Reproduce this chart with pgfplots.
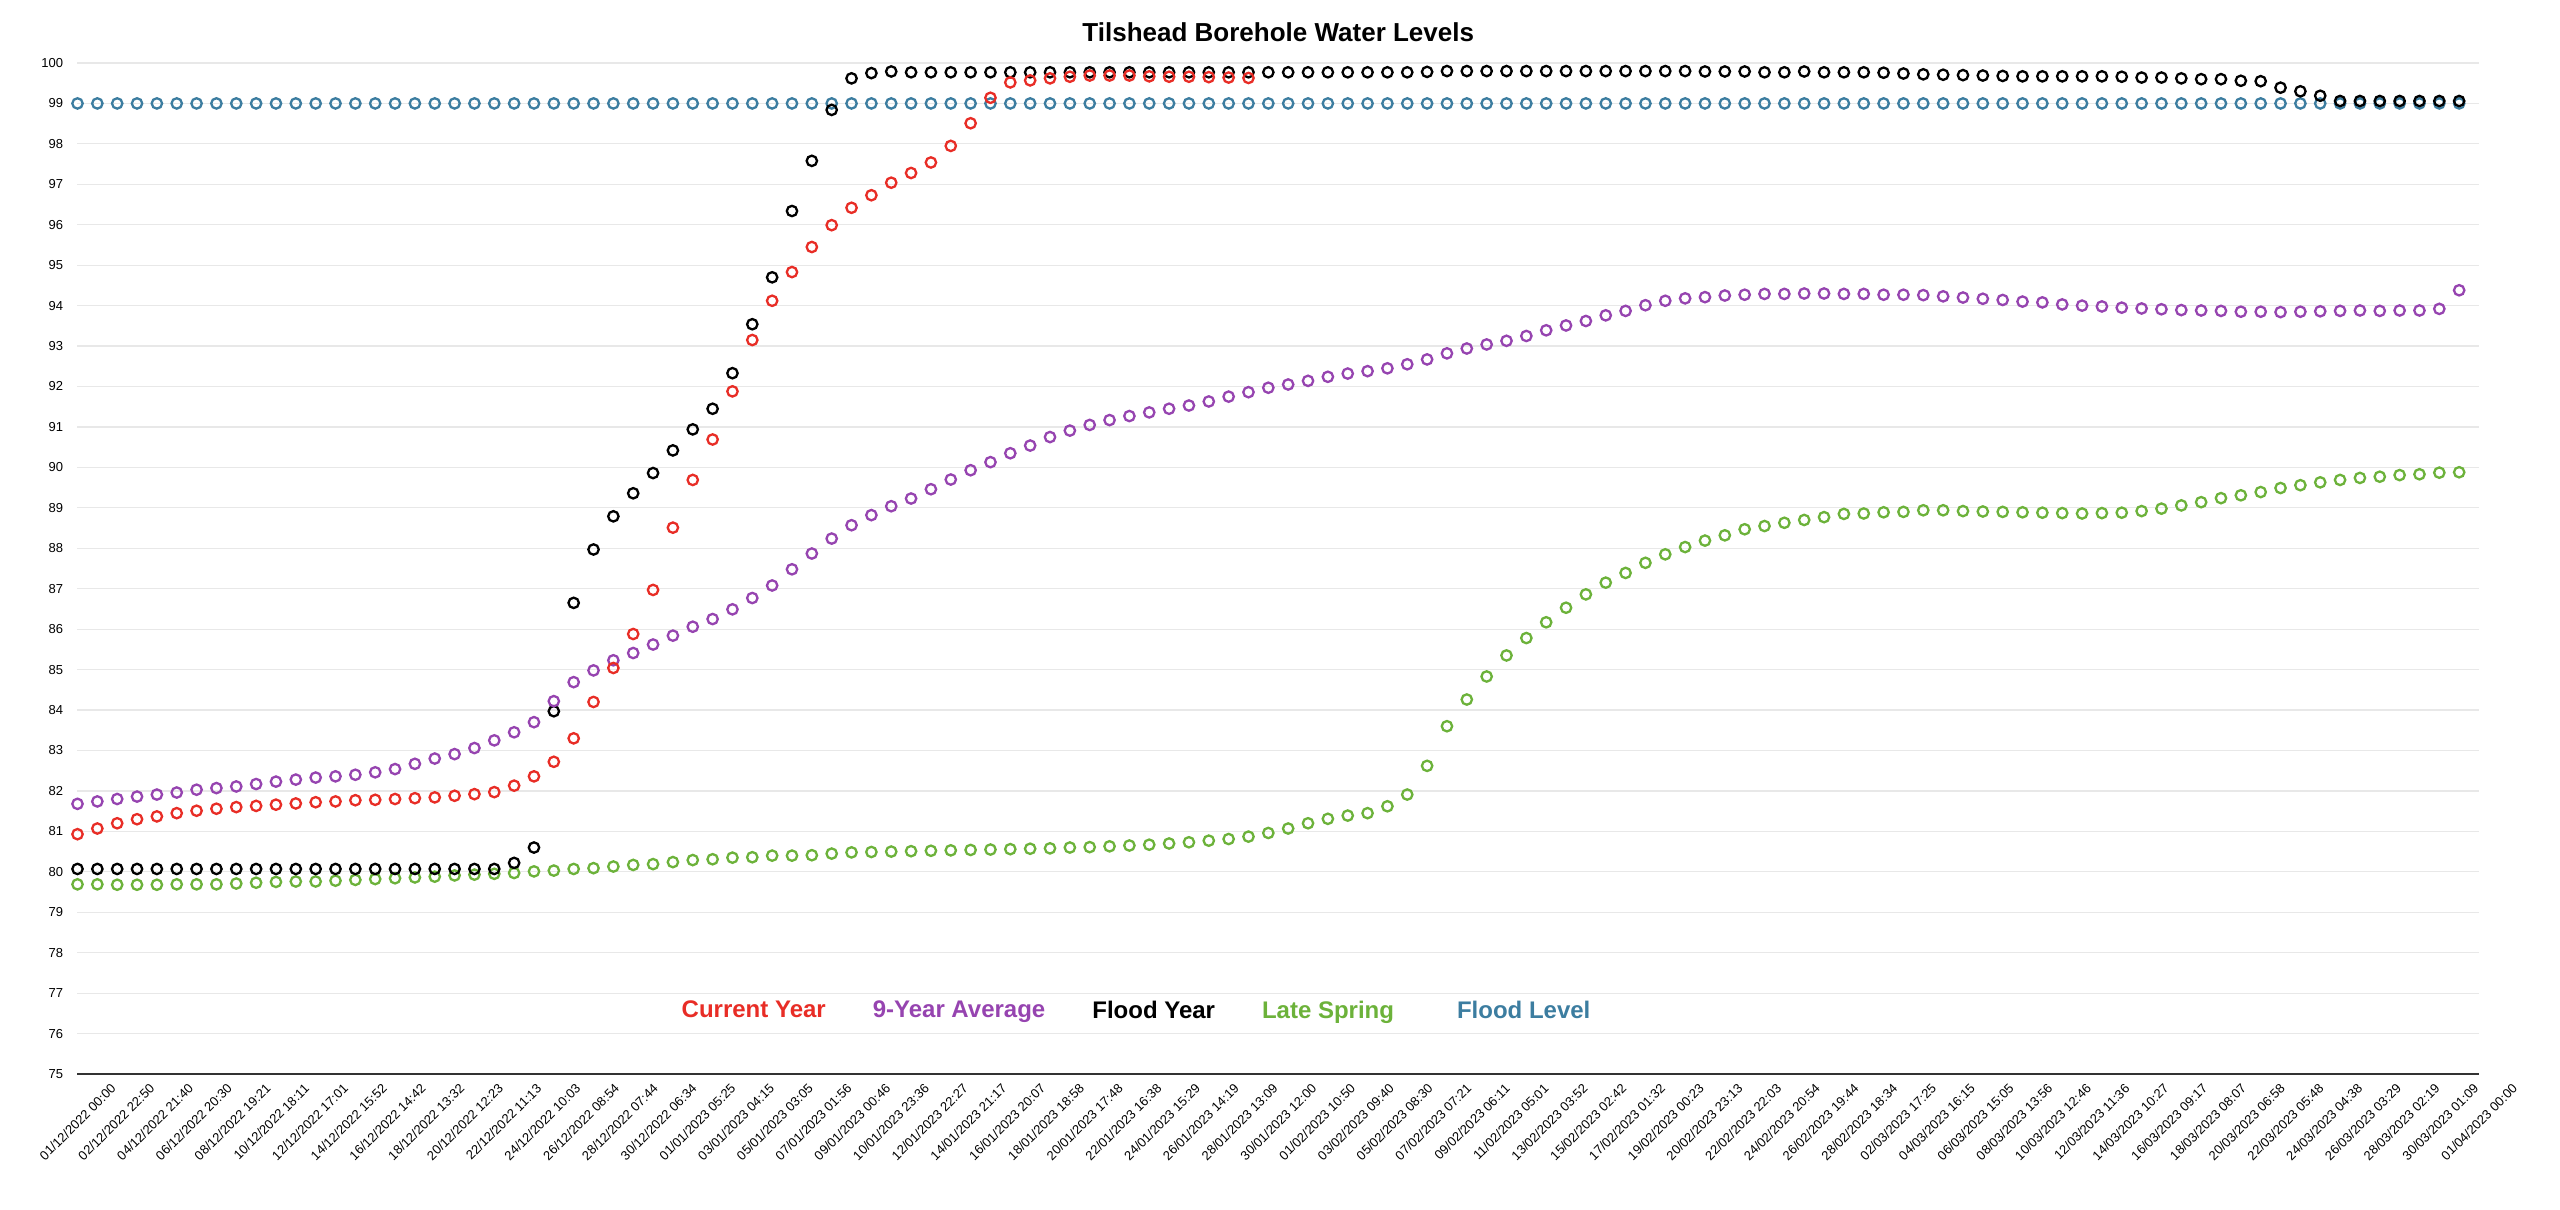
\documentclass[border=0pt]{standalone}
\usepackage{fontspec}
\setmainfont{Liberation Sans}
\usepackage{pgfplots}
\usepackage{pgfplotstable}
\pgfplotsset{compat=1.18}
\definecolor{cCur}{RGB}{232,45,38}
\definecolor{cAvg}{RGB}{150,68,176}
\definecolor{cFlood}{RGB}{0,0,0}
\definecolor{cLate}{RGB}{108,178,58}
\definecolor{cLevel}{RGB}{60,125,160}

\pgfplotstableread{
x y
0 80.93
1 81.07
2 81.20
3 81.30
4 81.37
5 81.45
6 81.51
7 81.56
8 81.60
9 81.63
10 81.66
11 81.69
12 81.72
13 81.74
14 81.77
15 81.78
16 81.80
17 81.82
18 81.84
19 81.88
20 81.92
21 81.97
22 82.13
23 82.36
24 82.72
25 83.30
26 84.20
27 85.04
28 85.88
29 86.97
30 88.51
31 89.69
32 90.69
33 91.88
34 93.15
35 94.12
36 94.83
37 95.45
38 95.99
39 96.42
40 96.73
41 97.04
42 97.28
43 97.54
44 97.95
45 98.51
46 99.14
47 99.52
48 99.57
49 99.62
50 99.66
51 99.69
52 99.69
53 99.69
54 99.67
55 99.66
56 99.66
57 99.65
58 99.64
59 99.63
}\tcur

\pgfplotstableread{
x y
0 81.68
1 81.74
2 81.80
3 81.86
4 81.91
5 81.96
6 82.03
7 82.07
8 82.11
9 82.17
10 82.23
11 82.28
12 82.33
13 82.36
14 82.40
15 82.46
16 82.54
17 82.67
18 82.80
19 82.91
20 83.06
21 83.25
22 83.45
23 83.70
24 84.22
25 84.69
26 84.98
27 85.23
28 85.41
29 85.62
30 85.84
31 86.06
32 86.25
33 86.49
34 86.77
35 87.08
36 87.48
37 87.87
38 88.24
39 88.57
40 88.82
41 89.04
42 89.23
43 89.46
44 89.70
45 89.93
46 90.13
47 90.35
48 90.54
49 90.75
50 90.91
51 91.05
52 91.17
53 91.27
54 91.36
55 91.45
56 91.53
57 91.63
58 91.75
59 91.86
60 91.97
61 92.05
62 92.14
63 92.24
64 92.32
65 92.38
66 92.45
67 92.55
68 92.67
69 92.82
70 92.94
71 93.04
72 93.13
73 93.25
74 93.39
75 93.51
76 93.62
77 93.76
78 93.87
79 94.01
80 94.12
81 94.18
82 94.21
83 94.25
84 94.27
85 94.29
86 94.29
87 94.30
88 94.30
89 94.29
90 94.29
91 94.27
92 94.27
93 94.26
94 94.23
95 94.20
96 94.17
97 94.14
98 94.10
99 94.08
100 94.03
101 94.00
102 93.98
103 93.95
104 93.93
105 93.91
106 93.89
107 93.88
108 93.87
109 93.85
110 93.85
111 93.84
112 93.85
113 93.86
114 93.87
115 93.88
116 93.87
117 93.88
118 93.88
119 93.92
120 94.38
}\tavg

\pgfplotstableread{
x y
0 80.07
1 80.07
2 80.07
3 80.07
4 80.07
5 80.07
6 80.07
7 80.07
8 80.07
9 80.07
10 80.07
11 80.07
12 80.07
13 80.07
14 80.07
15 80.07
16 80.07
17 80.07
18 80.07
19 80.07
20 80.07
21 80.07
22 80.22
23 80.60
24 83.97
25 86.65
26 87.97
27 88.79
28 89.36
29 89.86
30 90.42
31 90.94
32 91.45
33 92.33
34 93.54
35 94.70
36 96.34
37 97.58
38 98.84
39 99.62
40 99.75
41 99.79
42 99.77
43 99.77
44 99.77
45 99.77
46 99.77
47 99.77
48 99.77
49 99.77
50 99.77
51 99.77
52 99.77
53 99.77
54 99.77
55 99.77
56 99.77
57 99.77
58 99.77
59 99.77
60 99.77
61 99.77
62 99.77
63 99.77
64 99.77
65 99.77
66 99.77
67 99.77
68 99.78
69 99.80
70 99.80
71 99.80
72 99.80
73 99.80
74 99.80
75 99.80
76 99.80
77 99.80
78 99.80
79 99.80
80 99.80
81 99.80
82 99.79
83 99.79
84 99.79
85 99.77
86 99.77
87 99.79
88 99.77
89 99.77
90 99.77
91 99.76
92 99.74
93 99.72
94 99.71
95 99.70
96 99.69
97 99.68
98 99.67
99 99.67
100 99.67
101 99.67
102 99.67
103 99.66
104 99.64
105 99.64
106 99.62
107 99.60
108 99.60
109 99.56
110 99.55
111 99.39
112 99.30
113 99.19
114 99.06
115 99.06
116 99.06
117 99.06
118 99.06
119 99.06
120 99.06
}\tflood

\pgfplotstableread{
x y
0 79.69
1 79.69
2 79.68
3 79.68
4 79.68
5 79.69
6 79.69
7 79.69
8 79.71
9 79.73
10 79.75
11 79.76
12 79.76
13 79.78
14 79.80
15 79.82
16 79.84
17 79.86
18 79.88
19 79.91
20 79.93
21 79.95
22 79.97
23 80.01
24 80.03
25 80.07
26 80.09
27 80.13
28 80.17
29 80.19
30 80.24
31 80.29
32 80.31
33 80.35
34 80.36
35 80.40
36 80.40
37 80.41
38 80.45
39 80.48
40 80.49
41 80.50
42 80.51
43 80.52
44 80.53
45 80.54
46 80.55
47 80.56
48 80.57
49 80.58
50 80.60
51 80.61
52 80.63
53 80.65
54 80.67
55 80.70
56 80.73
57 80.77
58 80.81
59 80.87
60 80.96
61 81.07
62 81.20
63 81.31
64 81.39
65 81.45
66 81.62
67 81.91
68 82.62
69 83.60
70 84.26
71 84.83
72 85.35
73 85.78
74 86.17
75 86.53
76 86.86
77 87.15
78 87.39
79 87.64
80 87.85
81 88.03
82 88.19
83 88.32
84 88.47
85 88.55
86 88.63
87 88.70
88 88.77
89 88.85
90 88.86
91 88.89
92 88.90
93 88.94
94 88.94
95 88.92
96 88.91
97 88.90
98 88.89
99 88.88
100 88.87
101 88.86
102 88.87
103 88.88
104 88.92
105 88.98
106 89.06
107 89.14
108 89.24
109 89.31
110 89.39
111 89.49
112 89.56
113 89.63
114 89.69
115 89.74
116 89.77
117 89.81
118 89.83
119 89.87
120 89.88
}\tlate

\pgfplotstableread{
x y
0 99
1 99
2 99
3 99
4 99
5 99
6 99
7 99
8 99
9 99
10 99
11 99
12 99
13 99
14 99
15 99
16 99
17 99
18 99
19 99
20 99
21 99
22 99
23 99
24 99
25 99
26 99
27 99
28 99
29 99
30 99
31 99
32 99
33 99
34 99
35 99
36 99
37 99
38 99
39 99
40 99
41 99
42 99
43 99
44 99
45 99
46 99
47 99
48 99
49 99
50 99
51 99
52 99
53 99
54 99
55 99
56 99
57 99
58 99
59 99
60 99
61 99
62 99
63 99
64 99
65 99
66 99
67 99
68 99
69 99
70 99
71 99
72 99
73 99
74 99
75 99
76 99
77 99
78 99
79 99
80 99
81 99
82 99
83 99
84 99
85 99
86 99
87 99
88 99
89 99
90 99
91 99
92 99
93 99
94 99
95 99
96 99
97 99
98 99
99 99
100 99
101 99
102 99
103 99
104 99
105 99
106 99
107 99
108 99
109 99
110 99
111 99
112 99
113 99
114 99
115 99
116 99
117 99
118 99
119 99
120 99
}\tlevel

\begin{document}
\begin{tikzpicture}
\path[use as bounding box] (-38.75pt,-68pt) rectangle (1241.25pt,537pt);
\begin{axis}[
  scale only axis, width=1200.75pt, height=505.5pt,
  xmin=0, xmax=121, ymin=75, ymax=100,
  clip=false,
  axis x line*=bottom, axis y line*=left,
  x axis line style={-, line width=1.1pt, color=black!80},
  y axis line style={draw=none},
  ytick={75,76,...,100},
  ymajorgrids, major grid style={color=black!9, line width=0.6pt},
  major tick length=0pt,
  xtick={0,1.9516,3.9032,5.8548,7.8065,9.7581,11.7097,13.6613,15.6129,17.5645,19.5161,21.4677,23.4194,25.3710,27.3226,29.2742,31.2258,33.1774,35.1290,37.0806,39.0323,40.9839,42.9355,44.8871,46.8387,48.7903,50.7419,52.6935,54.6452,56.5968,58.5484,60.5,62.4516,64.4032,66.3548,68.3065,70.2581,72.2097,74.1613,76.1129,78.0645,80.0161,81.9677,83.9194,85.8710,87.8226,89.7742,91.7258,93.6774,95.6290,97.5806,99.5323,101.4839,103.4355,105.3871,107.3387,109.2903,111.2419,113.1935,115.1452,117.0968,119.0484,121},
  xticklabels={01/12/2022 00:00,02/12/2022 22:50,04/12/2022 21:40,06/12/2022 20:30,08/12/2022 19:21,10/12/2022 18:11,12/12/2022 17:01,14/12/2022 15:52,16/12/2022 14:42,18/12/2022 13:32,20/12/2022 12:23,22/12/2022 11:13,24/12/2022 10:03,26/12/2022 08:54,28/12/2022 07:44,30/12/2022 06:34,01/01/2023 05:25,03/01/2023 04:15,05/01/2023 03:05,07/01/2023 01:56,09/01/2023 00:46,10/01/2023 23:36,12/01/2023 22:27,14/01/2023 21:17,16/01/2023 20:07,18/01/2023 18:58,20/01/2023 17:48,22/01/2023 16:38,24/01/2023 15:29,26/01/2023 14:19,28/01/2023 13:09,30/01/2023 12:00,01/02/2023 10:50,03/02/2023 09:40,05/02/2023 08:30,07/02/2023 07:21,09/02/2023 06:11,11/02/2023 05:01,13/02/2023 03:52,15/02/2023 02:42,17/02/2023 01:32,19/02/2023 00:23,20/02/2023 23:13,22/02/2023 22:03,24/02/2023 20:54,26/02/2023 19:44,28/02/2023 18:34,02/03/2023 17:25,04/03/2023 16:15,06/03/2023 15:05,08/03/2023 13:56,10/03/2023 12:46,12/03/2023 11:36,14/03/2023 10:27,16/03/2023 09:17,18/03/2023 08:07,20/03/2023 06:58,22/03/2023 05:48,24/03/2023 04:38,26/03/2023 03:29,28/03/2023 02:19,30/03/2023 01:09,01/04/2023 00:00},
  xticklabel style={yshift=-24pt, rotate=45, anchor=center, inner sep=0pt, font=\fontsize{6.5}{7}\selectfont},
  yticklabel style={anchor=east, inner sep=0pt, xshift=-7pt, font=\fontsize{6.5}{7}\selectfont},
  /pgf/number format/assume math mode=true,
  title={Tilshead Borehole Water Levels},
  title style={at={(0.5,1)}, anchor=base, yshift=4.5pt, font=\fontsize{13}{15}\selectfont\bfseries},
  legend columns=5,
  legend style={draw=none, fill=none, at={(0.4408,0.0623)}, anchor=center,
    font=\fontsize{12}{14}\selectfont\bfseries,
    /tikz/every even column/.append style={column sep=19.5pt}},
  every axis plot/.append style={only marks, mark=o, mark size=2.6pt, line width=1.15pt},
]
\addplot[color=cLevel, forget plot] table[x=x,y=y] {\tlevel};
\addplot[color=cLate, forget plot] table[x=x,y=y] {\tlate};
\addplot[color=cFlood, forget plot] table[x=x,y=y] {\tflood};
\addplot[color=cAvg, forget plot] table[x=x,y=y] {\tavg};
\addplot[color=cCur, forget plot] table[x=x,y=y] {\tcur};
\addlegendimage{empty legend}\addlegendentry{\textcolor{cCur}{Current Year}}
\addlegendimage{empty legend}\addlegendentry{\textcolor{cAvg}{9-Year Average}}
\addlegendimage{empty legend}\addlegendentry{\textcolor{cFlood}{Flood Year}}
\addlegendimage{empty legend}\addlegendentry{\textcolor{cLate}{Late Spring}}
\addlegendimage{empty legend}\addlegendentry{\hspace{8pt}\textcolor{cLevel}{Flood Level}}
\end{axis}
\end{tikzpicture}
\end{document}
